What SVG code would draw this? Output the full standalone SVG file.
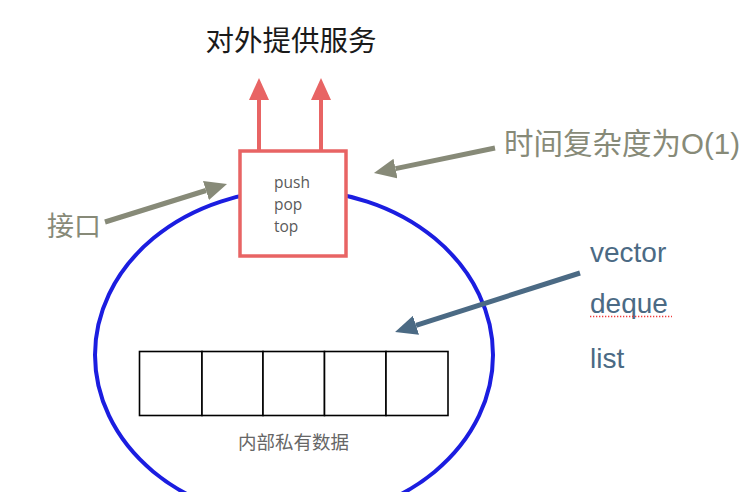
<svg xmlns="http://www.w3.org/2000/svg" width="752" height="492" viewBox="0 0 752 492">
  <style>
    .cjk { font-family: "Liberation Sans", "Noto Sans CJK SC", sans-serif; }
    .gray { fill: #878a78; }
    .slate { fill: #4b6a84; font-family: "Liberation Sans", sans-serif; font-size: 28px; }
    .ops { fill: #5a5a5a; font-family: "Open Sans", "DejaVu Sans", sans-serif; font-size: 15.5px; }
    .cell { fill: #fff; stroke: #000; stroke-width: 1.6; }
  </style>
  <defs>
    <marker id="headRed" markerUnits="userSpaceOnUse" markerWidth="22" markerHeight="20" refX="0" refY="10" orient="auto">
      <path d="M0,0 L22,10 L0,20 z" fill="#e86464"/>
    </marker>
    <marker id="headGray" markerUnits="userSpaceOnUse" markerWidth="22" markerHeight="20" refX="0" refY="10" orient="auto">
      <path d="M0,0 L22,10 L0,20 z" fill="#878a78"/>
    </marker>
    <marker id="headBlue" markerUnits="userSpaceOnUse" markerWidth="22" markerHeight="20" refX="0" refY="10" orient="auto">
      <path d="M0,0 L22,10 L0,20 z" fill="#4b6a84"/>
    </marker>
  </defs>
  <rect width="752" height="492" fill="#fff"/>

  <g id="container">
    <ellipse cx="294" cy="355" rx="199" ry="165" fill="none" stroke="#1b1de0" stroke-width="4"/>
  </g>

  <g id="title">
    <text x="291" y="51" text-anchor="middle" class="cjk" font-size="28.5" fill="#1a1a1a">对外提供服务</text>
  </g>

  <g id="connectors">
    <line x1="259" y1="150" x2="259" y2="100" stroke="#e86464" stroke-width="4" marker-end="url(#headRed)"/>
    <line x1="321" y1="150" x2="321" y2="100" stroke="#e86464" stroke-width="4" marker-end="url(#headRed)"/>
    <line x1="105" y1="222" x2="206" y2="190.5" stroke="#878a78" stroke-width="5" marker-end="url(#headGray)"/>
    <line x1="495" y1="148" x2="395.5" y2="168.6" stroke="#878a78" stroke-width="5" marker-end="url(#headGray)"/>
    <line x1="580" y1="273" x2="416" y2="325.3" stroke="#4b6a84" stroke-width="5" marker-end="url(#headBlue)"/>
  </g>

  <g id="interface">
    <rect x="240" y="151" width="106" height="105" fill="#fff" stroke="#e86464" stroke-width="3.5"/>
    <text x="274" y="188" class="ops">push</text>
    <text x="274" y="210" class="ops">pop</text>
    <text x="274" y="232" class="ops">top</text>
  </g>

  <g id="label-interface">
    <text x="47" y="236" class="cjk gray" font-size="27">接口</text>
  </g>

  <g id="label-complexity">
    <text x="504" y="154" class="cjk gray" font-size="29.5">时间复杂度为O(1)</text>
  </g>

  <g id="label-containers">
    <text x="590" y="262" class="slate">vector</text>
    <text x="590" y="313" class="slate">deque</text>
    <line x1="590" y1="316.5" x2="672" y2="316.5" stroke="#f03c3c" stroke-width="1.3" stroke-dasharray="1.3,1.7"/>
    <text x="590" y="368" class="slate">list</text>
  </g>

  <g id="array">
    <rect x="139.5" y="351.5" width="62.5" height="64" class="cell"/>
    <rect x="202" y="351.5" width="61" height="64" class="cell"/>
    <rect x="263" y="351.5" width="61.5" height="64" class="cell"/>
    <rect x="324.5" y="351.5" width="61.5" height="64" class="cell"/>
    <rect x="386" y="351.5" width="62" height="64" class="cell"/>
    <text x="293.5" y="449" text-anchor="middle" class="cjk" font-size="18.5" fill="#666">内部私有数据</text>
  </g>
</svg>
